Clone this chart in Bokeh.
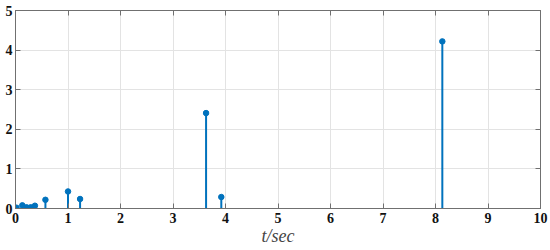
from bokeh.plotting import figure
from bokeh.models import Range1d, LinearAxis, FixedTicker, ColumnDataSource, Grid
from bokeh.embed import file_html
from bokeh.resources import INLINE

t_values = [0.02, 0.13, 0.21, 0.29, 0.37, 0.57, 1.00, 1.23, 3.63, 3.92, 8.13]
amplitudes = [0.02, 0.08, 0.03, 0.03, 0.07, 0.22, 0.43, 0.24, 2.41, 0.29, 4.22]
x_ticks = [0, 1, 2, 3, 4, 5, 6, 7, 8, 9, 10]
y_ticks = [0, 1, 2, 3, 4, 5]

BLUE = "#0072BD"
AXC = "#707070"
FONT = "'Liberation Serif', 'Times New Roman', serif"

src = ColumnDataSource(dict(t=t_values, a=amplitudes, z=[0] * len(t_values)))

p = figure(width=548, height=248, output_backend="svg", toolbar_location=None,
           x_range=Range1d(0, 10), y_range=Range1d(0, 5),
           min_border_left=15, min_border_right=8, min_border_top=10, min_border_bottom=39,
           x_axis_location=None, y_axis_location=None)
p.background_fill_color = "white"
p.border_fill_color = "white"
p.outline_line_color = AXC
p.outline_line_width = 1

def make_axis(ticks, labels=True):
    ax = LinearAxis(ticker=FixedTicker(ticks=ticks))
    ax.axis_line_color = AXC
    ax.major_tick_line_color = AXC
    ax.major_tick_in = 5
    ax.major_tick_out = 0
    ax.minor_tick_line_color = None
    ax.major_label_text_font = FONT
    ax.major_label_text_font_size = "14px"
    ax.major_label_text_font_style = "bold"
    ax.major_label_text_color = "#111111"
    if not labels:
        ax.major_label_text_color = None
    return ax

xb = make_axis(x_ticks)
xb.major_label_standoff = 4
xb.axis_label = "t/sec"
xb.axis_label_text_font = FONT
xb.axis_label_text_font_style = "italic"
xb.axis_label_text_font_size = "18px"
xb.axis_label_standoff = 0
p.add_layout(xb, "below")
yl = make_axis(y_ticks)
yl.major_label_standoff = 3
p.add_layout(yl, "left")
xt = make_axis(x_ticks, labels=False)
xt.major_label_standoff = 0
p.add_layout(xt, "above")
yr = make_axis(y_ticks, labels=False)
yr.major_label_standoff = 0
p.add_layout(yr, "right")

p.xgrid.visible = False
p.ygrid.visible = False
p.add_layout(Grid(dimension=0, ticker=xb.ticker, grid_line_color="#e3e3e3", grid_line_width=1))
p.add_layout(Grid(dimension=1, ticker=yl.ticker, grid_line_color="#e3e3e3", grid_line_width=1))

p.segment(x0="t", y0="z", x1="t", y1="a", source=src, line_color=BLUE, line_width=2)
p.scatter(x="t", y="a", source=src, size=5.5, fill_color=BLUE, line_color=BLUE)

open("out.html", "w").write(file_html(p, INLINE))
